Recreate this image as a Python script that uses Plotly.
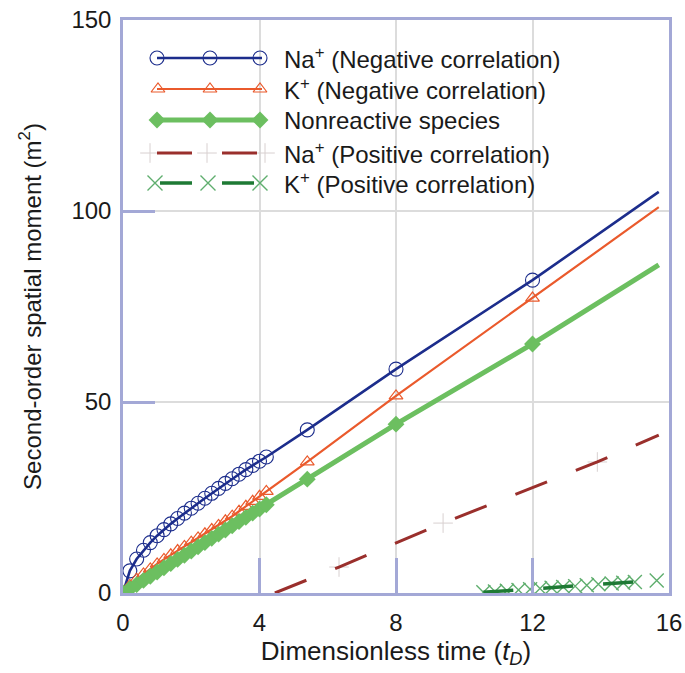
import plotly.graph_objects as go

# ---------------- data ----------------
T = [0, 0.2, 0.4, 0.6, 0.8, 1.0, 1.2, 1.4, 1.6, 1.8, 2.0, 2.2, 2.4, 2.6, 2.8, 3.0,
     3.2, 3.4, 3.6, 3.8, 4.0, 4.2, 5.4, 8.0, 12.0, 15.7]
NA_NEG = [0, 5.8, 8.9, 11.2, 13.2, 15.0, 16.6, 18.1, 19.5, 20.9, 22.2, 23.5, 24.8, 26.1,
          27.4, 28.7, 29.9, 31.1, 32.3, 33.4, 34.5, 35.6, 42.7, 58.6, 81.9, 105.0]
K_NEG = [0, 2.0, 3.6, 5.0, 6.3, 7.6, 8.8, 10.0, 11.1, 12.2, 13.3, 14.4, 15.5, 16.6,
         17.7, 18.9, 20.1, 21.4, 22.7, 24.0, 25.3, 26.6, 34.3, 51.6, 77.2, 101.0]
NONREACTIVE = [0, 1.1, 2.2, 3.3, 4.4, 5.5, 6.6, 7.7, 8.8, 9.9, 11.0, 12.1, 13.2, 14.3,
               15.4, 16.5, 17.6, 18.7, 19.8, 20.9, 22.0, 23.1, 29.8, 44.2, 65.2, 85.9]

T_NA_POS = [4.45, 6.33, 9.38, 13.9, 15.7]
NA_POS = [0.0, 6.8, 18.3, 34.3, 41.3]

T_K_POS = [10.56, 10.9, 11.25, 11.59, 11.93, 12.22, 12.56, 12.9, 13.25, 13.59, 13.93,
           14.32, 14.66, 15.0, 15.64]
K_POS = [0.2, 0.4, 0.6, 0.8, 1.0, 1.2, 1.4, 1.6, 1.8, 2.0, 2.3, 2.5, 2.7, 2.9, 3.3]

X_TICKS = [0, 4, 8, 12, 16]
Y_TICKS = [0, 50, 100, 150]

LABELS = ["Na<sup>+</sup> (Negative correlation)",
          "K<sup>+</sup> (Negative correlation)",
          "Nonreactive species",
          "Na<sup>+</sup> (Positive correlation)",
          "K<sup>+</sup> (Positive correlation)"]

# ---------------- styles ----------------
BLUE = "#1c2d8c"
ORANGE = "#ea5a2c"
GREEN = "#6cbf60"
DRED = "#9a2f2c"
DGREEN = "#1e7a34"
XGREEN = "#5fae6e"
PLUSC = "#d8d0d0"
FRAME = "#a3a8d6"
GRID = "#dcdcdc"
FONT = "Liberation Sans, Arial, sans-serif"

fig = go.Figure()

# Na+ negative
fig.add_trace(go.Scatter(x=T, y=NA_NEG, mode="lines", line=dict(color=BLUE, width=2.6),
                         showlegend=False))
fig.add_trace(go.Scatter(x=T[:-1], y=NA_NEG[:-1], mode="markers",
                         marker=dict(symbol="circle-open", size=14, color=BLUE,
                                     line=dict(color=BLUE, width=1.1)),
                         showlegend=False))
# K+ negative
fig.add_trace(go.Scatter(x=T, y=K_NEG, mode="lines", line=dict(color=ORANGE, width=2.2),
                         showlegend=False))
fig.add_trace(go.Scatter(x=T[:-1], y=K_NEG[:-1], mode="markers",
                         marker=dict(symbol="triangle-up-open", size=12, color=ORANGE,
                                     line=dict(color=ORANGE, width=1.2)),
                         showlegend=False))
# Nonreactive
fig.add_trace(go.Scatter(x=T, y=NONREACTIVE, mode="lines", line=dict(color=GREEN, width=5),
                         showlegend=False))
fig.add_trace(go.Scatter(x=T[:-1], y=NONREACTIVE[:-1], mode="markers",
                         marker=dict(symbol="diamond", size=13, color=GREEN),
                         showlegend=False))
# Na+ positive
fig.add_trace(go.Scatter(x=T_NA_POS[1:-1], y=NA_POS[1:-1], mode="markers",
                         marker=dict(symbol="cross-thin", size=14, color=PLUSC,
                                     line=dict(color=PLUSC, width=1)),
                         showlegend=False))
fig.add_trace(go.Scatter(x=T_NA_POS, y=NA_POS, mode="lines",
                         line=dict(color=DRED, width=3, dash="34px,31px"),
                         showlegend=False))
# K+ positive
fig.add_trace(go.Scatter(x=T_K_POS, y=K_POS, mode="markers",
                         marker=dict(symbol="x-thin", size=14, color=XGREEN,
                                     line=dict(color=XGREEN, width=1.4)),
                         showlegend=False))
fig.add_trace(go.Scatter(x=T_K_POS, y=K_POS, mode="lines",
                         line=dict(color=DGREEN, width=3.5, dash="30px,30px"),
                         showlegend=False))

# ---------------- custom legend (overlay axis in pixel units) ----------------
LEG_ROWS = [58, 89, 120, 153, 183]
leg_specs = [
    dict(mx=[157, 210, 260], lx=[157, 262],
         line=dict(color=BLUE, width=2.6),
         marker=dict(symbol="circle-open", size=14, color=BLUE, line=dict(color=BLUE, width=1.1))),
    dict(mx=[158, 210, 260], lx=[157, 262],
         line=dict(color=ORANGE, width=2.2),
         marker=dict(symbol="triangle-up-open", size=12, color=ORANGE, line=dict(color=ORANGE, width=1.2))),
    dict(mx=[157, 210, 260], lx=[157, 262],
         line=dict(color=GREEN, width=5),
         marker=dict(symbol="diamond", size=13, color=GREEN)),
    dict(mx=[150, 207, 265], lx=[157, 262],
         line=dict(color=DRED, width=3, dash="35px,30px"),
         marker=dict(symbol="cross-thin", size=14, color=PLUSC, line=dict(color=PLUSC, width=1))),
    dict(mx=[155, 208, 260], lx=[160, 262],
         line=dict(color=DGREEN, width=3.5, dash="32px,30px"),
         marker=dict(symbol="x-thin", size=15, color=XGREEN, line=dict(color=XGREEN, width=1.4))),
]
for i, spec in enumerate(leg_specs):
    yy = LEG_ROWS[i]
    fig.add_trace(go.Scatter(x=spec["mx"], y=[yy] * 3, mode="markers", marker=spec["marker"],
                             xaxis="x2", yaxis="y2", showlegend=False, hoverinfo="skip"))
    fig.add_trace(go.Scatter(x=spec["lx"], y=[yy, yy], mode="lines", line=spec["line"],
                             xaxis="x2", yaxis="y2", showlegend=False, hoverinfo="skip"))
    fig.add_annotation(x=282, y=yy, xref="x2", yref="y2", text=LABELS[i], showarrow=False,
                       xanchor="left", yanchor="middle",
                       font=dict(family=FONT, size=24, color="#1a1a1a"))

fig.update_layout(
    width=685, height=673,
    margin=dict(l=123, r=16, t=20, b=80),
    paper_bgcolor="white", plot_bgcolor="white",
    font=dict(family=FONT, size=24, color="#1a1a1a"),
    xaxis=dict(range=[0, 16], tickvals=X_TICKS, showgrid=True, gridcolor=GRID, gridwidth=1.5,
               zeroline=False, showline=True, linecolor=FRAME, linewidth=2.5, mirror=True,
               ticks="inside", ticklen=35, tickwidth=2.5, tickcolor=FRAME,
               tickfont=dict(size=24), ticklabelstandoff=6, automargin=False,
               title=dict(text="Dimensionless time (<i>t</i><sub><i>D</i></sub>)",
                          font=dict(size=26), standoff=2)),
    yaxis=dict(range=[0, 150], tickvals=Y_TICKS, showgrid=True, gridcolor=GRID, gridwidth=1.5,
               zeroline=False, showline=True, linecolor=FRAME, linewidth=2.5, mirror=True,
               ticks="inside", ticklen=32, tickwidth=2.5, tickcolor=FRAME,
               tickfont=dict(size=24), ticklabelstandoff=4, automargin=False,
               title=dict(text="Second-order spatial moment (m<sup>2</sup>)",
                          font=dict(size=24), standoff=24)),
    xaxis2=dict(overlaying="x", range=[123, 669], visible=False, fixedrange=True,
                automargin=False),
    yaxis2=dict(overlaying="y", range=[593, 20], visible=False, fixedrange=True,
                automargin=False),
    showlegend=False,
)

fig.write_html("out.html")
